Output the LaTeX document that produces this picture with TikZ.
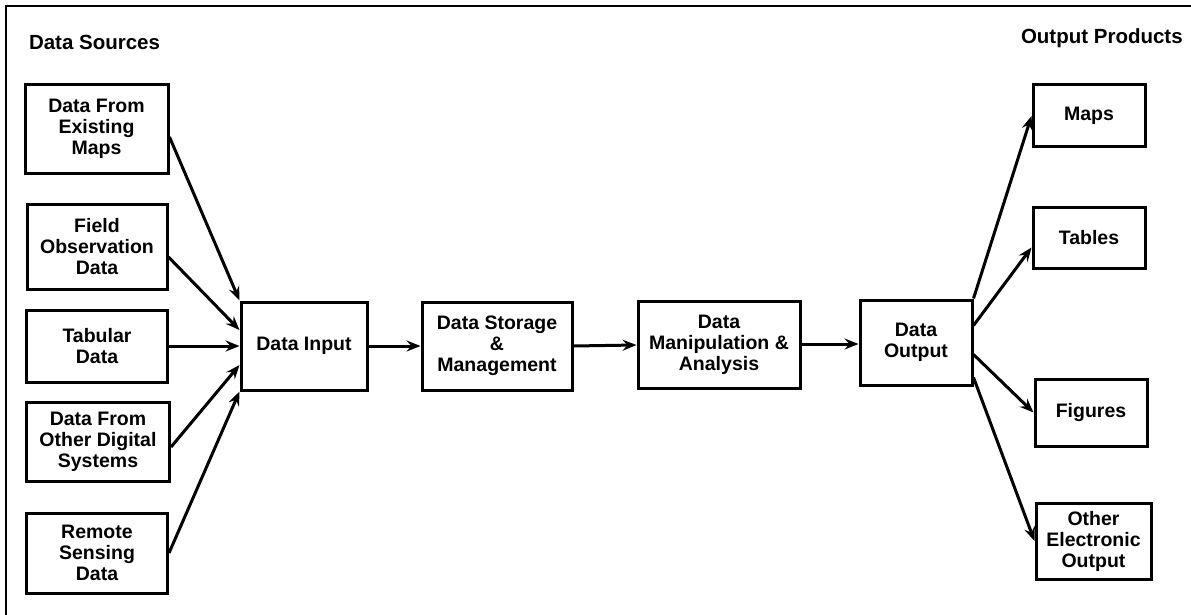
\documentclass[tikz,border=0pt]{standalone}
\usepackage{fontspec}
\setmainfont{Liberation Sans}
\usetikzlibrary{arrows.meta}

\tikzset{every picture/.style={line width=2pt}}
\tikzset{
  box/.style={draw, line width=3pt, align=center, inner sep=0pt,
    font=\bfseries\fontsize{19.5}{21}\selectfont},
  conn/.style={line width=3pt, -{Stealth[length=14pt,width=11pt,inset=5pt]}},
  heading/.style={anchor=west, inner sep=0pt, font=\bfseries\fontsize{20.5}{22}\selectfont}
}

\begin{document}
\begin{tikzpicture}[x=1pt,y=1pt,yscale=-1,xscale=1]
\useasboundingbox (0,0) rectangle (1191,615);

% Frame
\draw [line width=2.6pt] (6,615) -- (6,6) -- (1191,6) ;

% Headings
\node [heading] (hsrc) at (28,42) {Data Sources};
\node [heading] (hout) at (1020,38) {Output Products};

% Data sources
\node [box, minimum width=143, minimum height=88] (src1) at (96.5,129) {Data From\\Existing\\Maps};
\node [box, minimum width=140, minimum height=85] (src2) at (97,247) {Field\\Observation\\Data};
\node [box, minimum width=141, minimum height=72] (src3) at (97,346) {Tabular\\Data};
\node [box, minimum width=143, minimum height=79] (src4) at (98,442) {Data From\\Other Digital\\Systems};
\node [box, minimum width=141, minimum height=80] (src5) at (97,553) {Remote\\Sensing\\Data};

% Processing chain
\node [box, minimum width=126, minimum height=88] (din) at (304,346) {Data Input};
\node [box, minimum width=150, minimum height=88] (dsm) at (497,346) {Data Storage\\\&\\Management};
\node [box, minimum width=162, minimum height=87] (dma) at (719,345) {Data\\Manipulation \&\\Analysis};
\node [box, minimum width=112, minimum height=85] (dout) at (916,342.5) {Data\\Output};

% Output products
\node [box, minimum width=112, minimum height=62] (maps) at (1089,116) {Maps};
\node [box, minimum width=112, minimum height=61] (tabs) at (1089,237.5) {Tables};
\node [box, minimum width=112, minimum height=67] (figs) at (1091,412.5) {Figures};
\node [box, minimum width=115, minimum height=76] (elec) at (1093.5,541) {Other\\Electronic\\Output};

% Connections into data input
\draw [conn] ([yshift=8pt]src1.east) -- (din.north west) ;
\draw [conn] ([yshift=10pt]src2.east) -- ([yshift=-16pt]din.west) ;
\draw [conn] (src3.east) -- (din.west) ;
\draw [conn] ([yshift=5pt]src4.east) -- ([yshift=19pt]din.west) ;
\draw [conn] (src5.east) -- (din.south west) ;

% Connections along the chain
\draw [conn] (din.east) -- (dsm.west) ;
\draw [conn] (dsm.east) -- (dma.west) ;
\draw [conn] ([yshift=-1pt]dma.east) -- ([yshift=-1pt]dma.east -| dout.west) ;

% Connections to output products
\draw [conn] (dout.north east) -- (maps.west) ;
\draw [conn] ([yshift=-17pt]dout.east) -- ([yshift=10pt]tabs.west) ;
\draw [conn] ([yshift=12pt]dout.east) -- (figs.west) ;
\draw [conn] ([yshift=35pt]dout.east) -- (elec.west) ;

\end{tikzpicture}
\end{document}
